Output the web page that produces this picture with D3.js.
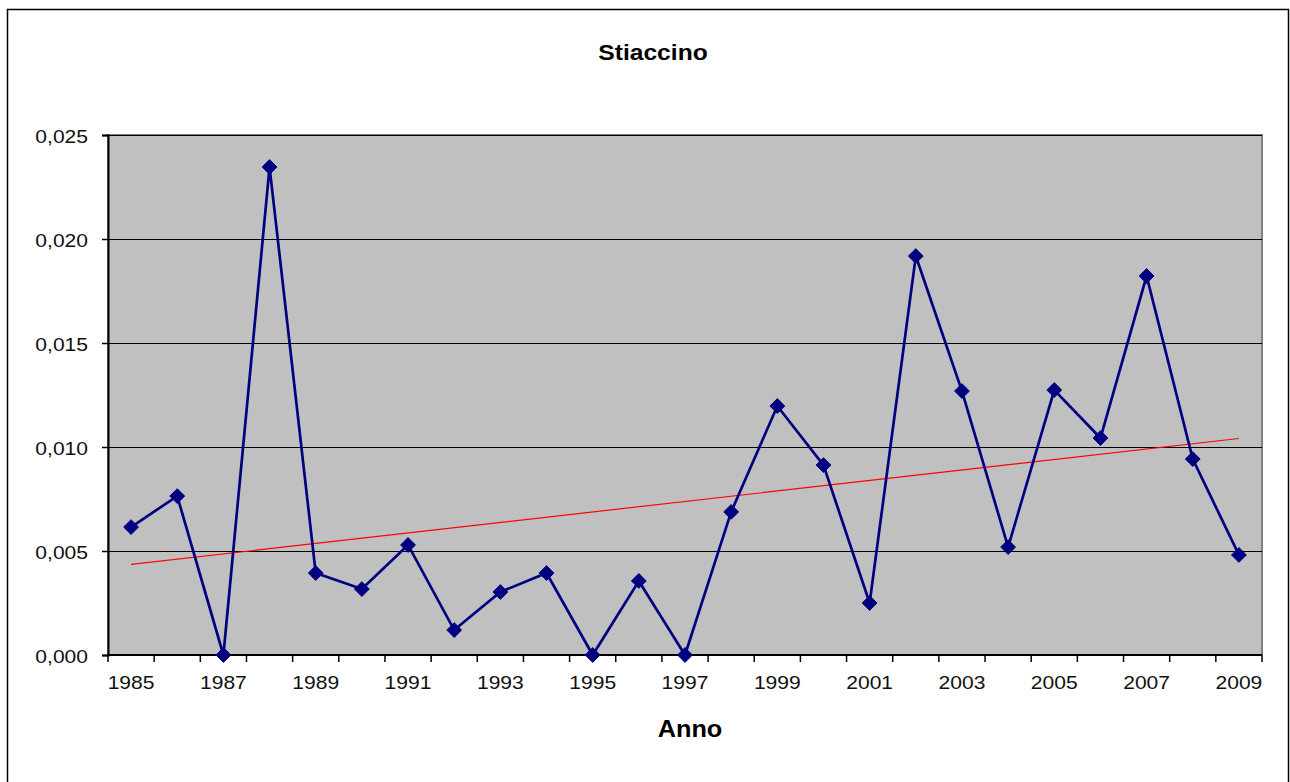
<!DOCTYPE html>
<html><head><meta charset="utf-8">
<script src="https://cdn.jsdelivr.net/npm/d3@7"></script>
<style>body{margin:0;background:#fff}svg{display:block;font-family:"Liberation Sans",Arial,sans-serif}</style>
</head><body><svg id="c" width="1290" height="782"></svg>
<script>
const years = d3.range(1985, 2010).map(String);
const values = [0.00615,0.00764,0,0.02346,0.00394,0.00317,0.00529,0.0012,0.00303,0.00394,0,0.00356,0,0.00688,0.01197,0.00913,0.0025,0.01918,0.01269,0.00519,0.01274,0.01043,0.01822,0.00942,0.00481];
const yTicks = [0,0.005,0.010,0.015,0.020,0.025];
const title = "Stiaccino";
const xTitle = "Anno";

const SX = 1.17; // horizontal stretch of text as in the reference
const svg = d3.select("#c");
const L=108, T=135, R=1262, B=655;
svg.append("path").attr("d","M7.5,782V9.5H1288.5V782").attr("fill","none").attr("stroke","#000").attr("stroke-width",1.5);

const x = d3.scaleBand().domain(years).range([L,R]);
const y = d3.scaleLinear().domain([0,0.025]).range([B,T]);

svg.append("rect").attr("x",L).attr("y",T).attr("width",R-L).attr("height",B-T).attr("fill","#c0c0c0").attr("stroke","#808080").attr("stroke-width",2);
svg.append("g").selectAll("line").data(yTicks.filter(d=>d>0)).join("line")
 .attr("x1",L).attr("x2",R).attr("y1",d=>Math.round(y(d))+0.5).attr("y2",d=>Math.round(y(d))+0.5).attr("stroke","#000").attr("stroke-width",1);

const fmt = d => d3.format(".3f")(d).replace(".",",");
const ya = svg.append("g").attr("transform",`translate(${L},0)`).call(d3.axisLeft(y).tickValues(yTicks).tickFormat(fmt).tickSize(6));
ya.select(".domain").attr("stroke","#000").attr("stroke-width",2);
ya.selectAll("line").attr("stroke","#000").attr("stroke-width",1.5);
ya.selectAll("text").attr("font-size",18).attr("fill","#111").attr("font-family","Liberation Sans, Arial, sans-serif")
  .attr("x",-20/SX).attr("dy","0.42em").attr("transform",`scale(${SX},1)`);

// x axis
const xg = svg.append("g").attr("transform",`translate(0,${B})`);
xg.append("line").attr("x1",L).attr("x2",R).attr("stroke","#000").attr("stroke-width",2);
const tickPos = years.map((d,i)=>x(d)).concat([R]);
xg.selectAll("line.t").data(tickPos).join("line").attr("class","t").attr("x1",d=>d).attr("x2",d=>d).attr("y1",0).attr("y2",7).attr("stroke","#000").attr("stroke-width",1.5);
xg.selectAll("text").data(years.filter((d,i)=>i%2===0)).join("text")
 .attr("transform",d=>`translate(${x(d)+x.bandwidth()/2},34) scale(${SX},1)`).attr("text-anchor","middle").attr("font-size",18).attr("fill","#111").text(d=>d);

// trendline (least squares, like spreadsheet linear trendline)
const idx = values.map((v,i)=>i);
const mx = d3.mean(idx), my = d3.mean(values);
const slope = d3.sum(idx,i=>(i-mx)*(values[i]-my))/d3.sum(idx,i=>(i-mx)**2);
const icpt = my - slope*mx;
const cx = i => x(years[i])+x.bandwidth()/2;
svg.append("line").attr("x1",cx(0)).attr("x2",cx(years.length-1)).attr("y1",y(icpt)).attr("y2",y(icpt+slope*(years.length-1))).attr("stroke","#ff0000").attr("stroke-width",1.2);

// series
svg.append("path").datum(values).attr("fill","none").attr("stroke","#000080").attr("stroke-width",2.7)
 .attr("d",d3.line().x((d,i)=>cx(i)).y(d=>y(d)));
svg.append("g").selectAll("path").data(values).join("path")
 .attr("transform",(d,i)=>`translate(${cx(i)},${y(d)})`)
 .attr("d",d3.symbol().type(d3.symbolDiamond2).size(140)).attr("fill","#000080").attr("stroke","#000080").attr("stroke-width",1);

svg.append("text").attr("transform",`translate(653,60) scale(1.12,1)`).attr("text-anchor","middle").attr("font-size",22).attr("font-weight","bold").text(title);
svg.append("text").attr("transform",`translate(690,737) scale(1.1,1)`).attr("text-anchor","middle").attr("font-size",23).attr("font-weight","bold").text(xTitle);
</script></body></html>
